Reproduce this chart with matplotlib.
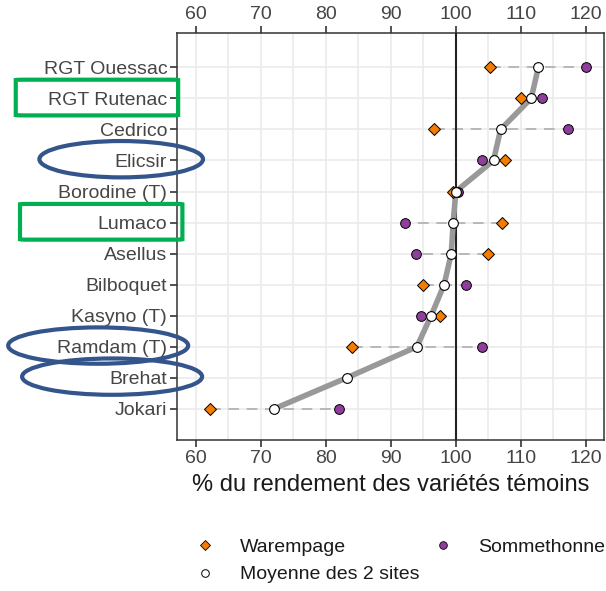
import numpy as np
import matplotlib
matplotlib.use("Agg")
import matplotlib.pyplot as plt
from matplotlib.patches import Ellipse, FancyBboxPatch
from matplotlib.lines import Line2D
from matplotlib.transforms import blended_transform_factory

plt.rcParams["font.family"] = ["Liberation Sans", "DejaVu Sans"]

varietes = ["RGT Ouessac", "RGT Rutenac", "Cedrico", "Elicsir", "Borodine (T)", "Lumaco",
            "Asellus", "Bilboquet", "Kasyno (T)", "Ramdam (T)", "Brehat", "Jokari"]
warempage = [105.3, 110.0, 96.7, 107.6, 99.6, 107.1, 104.9, 94.9, 97.6, 84.0, np.nan, 62.2]
sommethonne = [120.0, 113.3, 117.3, 104.0, 100.4, 92.2, 93.8, 101.6, 94.7, 104.1, np.nan, 82.0]
moyenne = [112.7, 111.6, 106.9, 105.8, 100.0, 99.6, 99.3, 98.2, 96.2, 94.0, 83.2, 72.0]

# varietes encadrees / entourees sur l'image
encadrees = ["RGT Rutenac", "Lumaco"]
entourees = ["Elicsir", "Ramdam (T)", "Brehat"]

orange = "#f57c00"
violet = "#8e3f9c"
txt = "#454545"

fig = plt.figure(figsize=(6.06, 5.91), dpi=100)
ax = fig.add_axes([0.292, 0.2555, 0.7047, 0.6885])

y = np.arange(len(varietes))[::-1] + 1

for yi, w, s in zip(y, warempage, sommethonne):
    if not np.isnan(w):
        ax.plot([w, s], [yi, yi], color="#aaaaaa", lw=1.1, ls=(0, (7, 5)), zorder=2)

ax.axvline(100, color="#222222", lw=1.5, zorder=3)
ax.plot(moyenne, y, color="#999999", lw=4, zorder=4, solid_capstyle="round")
ax.plot(warempage, y, ls="none", marker="D", ms=6.5, mfc=orange, mec="black", mew=0.7, zorder=5)
ax.plot(sommethonne, y, ls="none", marker="o", ms=7, mfc=violet, mec="black", mew=0.7, zorder=5)
ax.plot(moyenne, y, ls="none", marker="o", ms=7, mfc="white", mec="black", mew=0.8, zorder=6)

ax.set_xlim(57.1, 122.8)
ax.set_ylim(0.0, 13.1)
ax.set_xticks(np.arange(60, 121, 10))
ax.set_xticks(np.arange(65, 121, 10), minor=True)
ax.set_yticks(y)
ax.set_yticklabels(varietes)
ax.tick_params(axis="x", which="major", top=True, labeltop=True, direction="out",
               length=5, width=1.2, color="#333333", labelsize=14, labelcolor=txt, pad=2)
ax.tick_params(axis="x", which="minor", length=0)
ax.tick_params(axis="y", direction="out", length=5, width=1.2, color="#333333",
               labelsize=14, labelcolor=txt, pad=2)
ax.grid(True, which="both", color="#ebebeb", lw=1.2, zorder=0)
ax.set_axisbelow(True)
for sp in ax.spines.values():
    sp.set_color("#333333")
    sp.set_linewidth(1.1)
ax.set_xlabel("% du rendement des variétés témoins", fontsize=17, color="#1a1a1a", labelpad=5)

handles = [
    Line2D([], [], ls="none", marker="D", ms=5, mfc=orange, mec="black", mew=0.6),
    Line2D([], [], ls="none", marker="o", ms=5.5, mfc="white", mec="black", mew=0.7),
    Line2D([], [], ls="none", marker="o", ms=5.5, mfc=violet, mec="black", mew=0.6),
]
labels = ["Warempage", "Moyenne des 2 sites", "Sommethonne"]
fig.legend(handles, labels, ncol=2, loc="upper left", bbox_to_anchor=(0.306, 0.089),
           frameon=False, fontsize=14, labelcolor="#1a1a1a", handletextpad=0.8,
           columnspacing=0.2, labelspacing=0.5, borderpad=0, borderaxespad=0)

# annotations autour des noms de varietes
tr = blended_transform_factory(fig.transFigure, ax.transData)
for nom in encadrees:
    yi = y[varietes.index(nom)]
    x0 = 0.026 if nom == "RGT Rutenac" else 0.033
    box = FancyBboxPatch((x0, yi - 0.55), 0.268, 1.15, boxstyle="round,pad=0,rounding_size=0.012",
                         transform=tr, fill=False, ec="#00b050", lw=3, clip_on=False, zorder=10)
    fig.add_artist(box)
for nom in entourees:
    yi = y[varietes.index(nom)]
    cx = {"Elicsir": 0.2, "Ramdam (T)": 0.162, "Brehat": 0.185}[nom]
    wd = 0.27 if nom == "Elicsir" else 0.297
    el = Ellipse((cx, yi + 0.04), wd, 1.17, transform=tr, fill=False, ec="#34558b",
                 lw=3, clip_on=False, zorder=10)
    fig.add_artist(el)

fig.savefig("out.png", dpi=100)
